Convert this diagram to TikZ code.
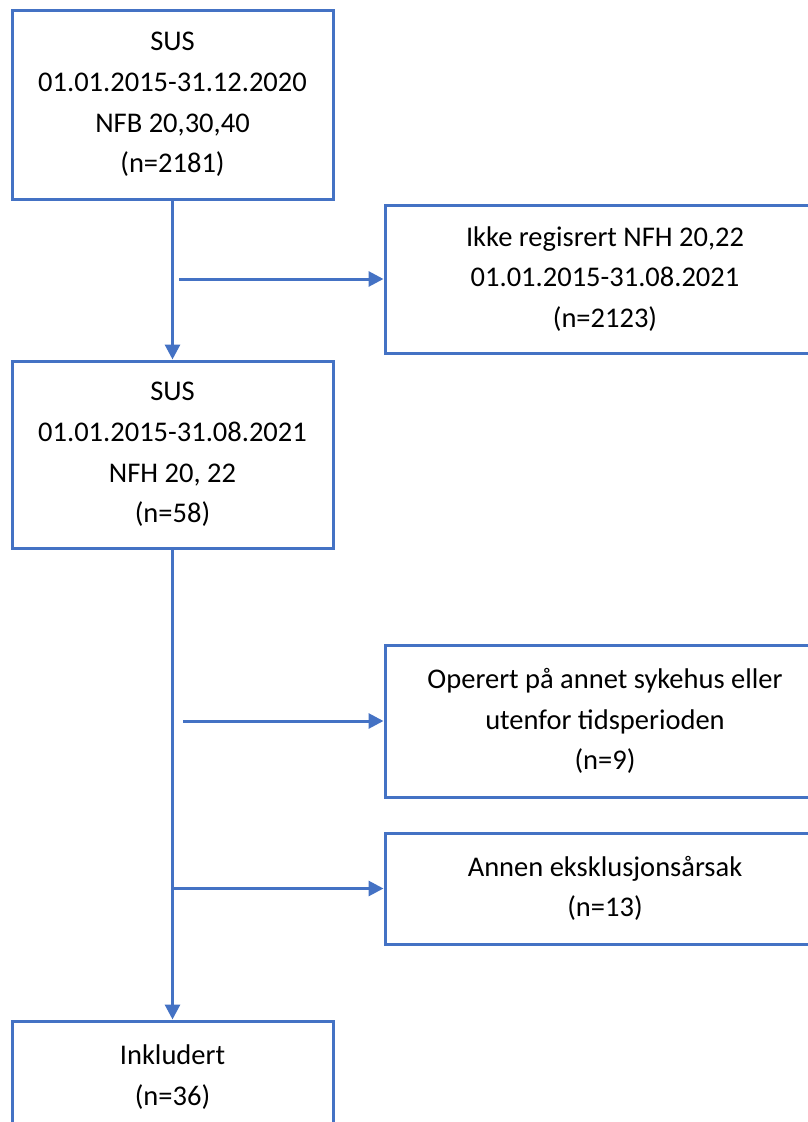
\documentclass[tikz,border=0pt]{standalone}
\usepackage{fontspec}
\setmainfont{Carlito}
\usepackage{xcolor}
\usepackage{tikz}
\usetikzlibrary{arrows.meta, positioning}
\definecolor{flowblue}{HTML}{4472C4}

\begin{document}
\begin{tikzpicture}[
    x=1pt, y=-1pt,
    box/.style={rectangle, draw=flowblue, line width=3pt, fill=white, inner sep=0pt, minimum width=#1, align=center, font=\fontsize{28.5}{40.7}\selectfont},
    box/.default=321pt,
    arrow/.style={-{Triangle[length=15pt, width=15pt]}, line width=3pt, color=flowblue},
    line/.style={line width=3pt, color=flowblue}
]
\useasboundingbox (0,0) rectangle (808,1122);

% Main column
\node[box, minimum height=189pt] (sus1) at (172.5,104.5) {SUS\\01.01.2015-31.12.2020\\NFB 20,30,40\\(n=2181)};
\node[box, minimum height=187pt] (sus2) at (172.5,454.5) {SUS\\01.01.2015-31.08.2021\\NFH 20, 22\\(n=58)};
\node[box, minimum height=112pt] (inkl) at (172.5,1077) {Inkludert\\(n=36)};

% Excluded
\node[box=440pt, minimum height=148pt] (ikke) at (605,279) {Ikke regisrert NFH 20,22\\01.01.2015-31.08.2021\\(n=2123)};
\node[box=440pt, minimum height=152pt] (oper) at (605,721) {Operert på annet sykehus eller\\utenfor tidsperioden\\(n=9)};
\node[box=440pt, minimum height=111pt] (annen) at (605,888.5) {Annen eksklusjonsårsak\\(n=13)};

\coordinate (b1) at (179,279);
\coordinate (b2) at (183,721);
\coordinate (b3) at (173,888.5);

\draw[arrow] (sus1) -- (sus2);
\draw[arrow] (sus2) -- (inkl);
\draw[arrow] (b1) -- (ikke.west);
\draw[arrow] (b2) -- (oper.west);
\draw[arrow] (b3) -- (annen.west);

\end{tikzpicture}
\end{document}
